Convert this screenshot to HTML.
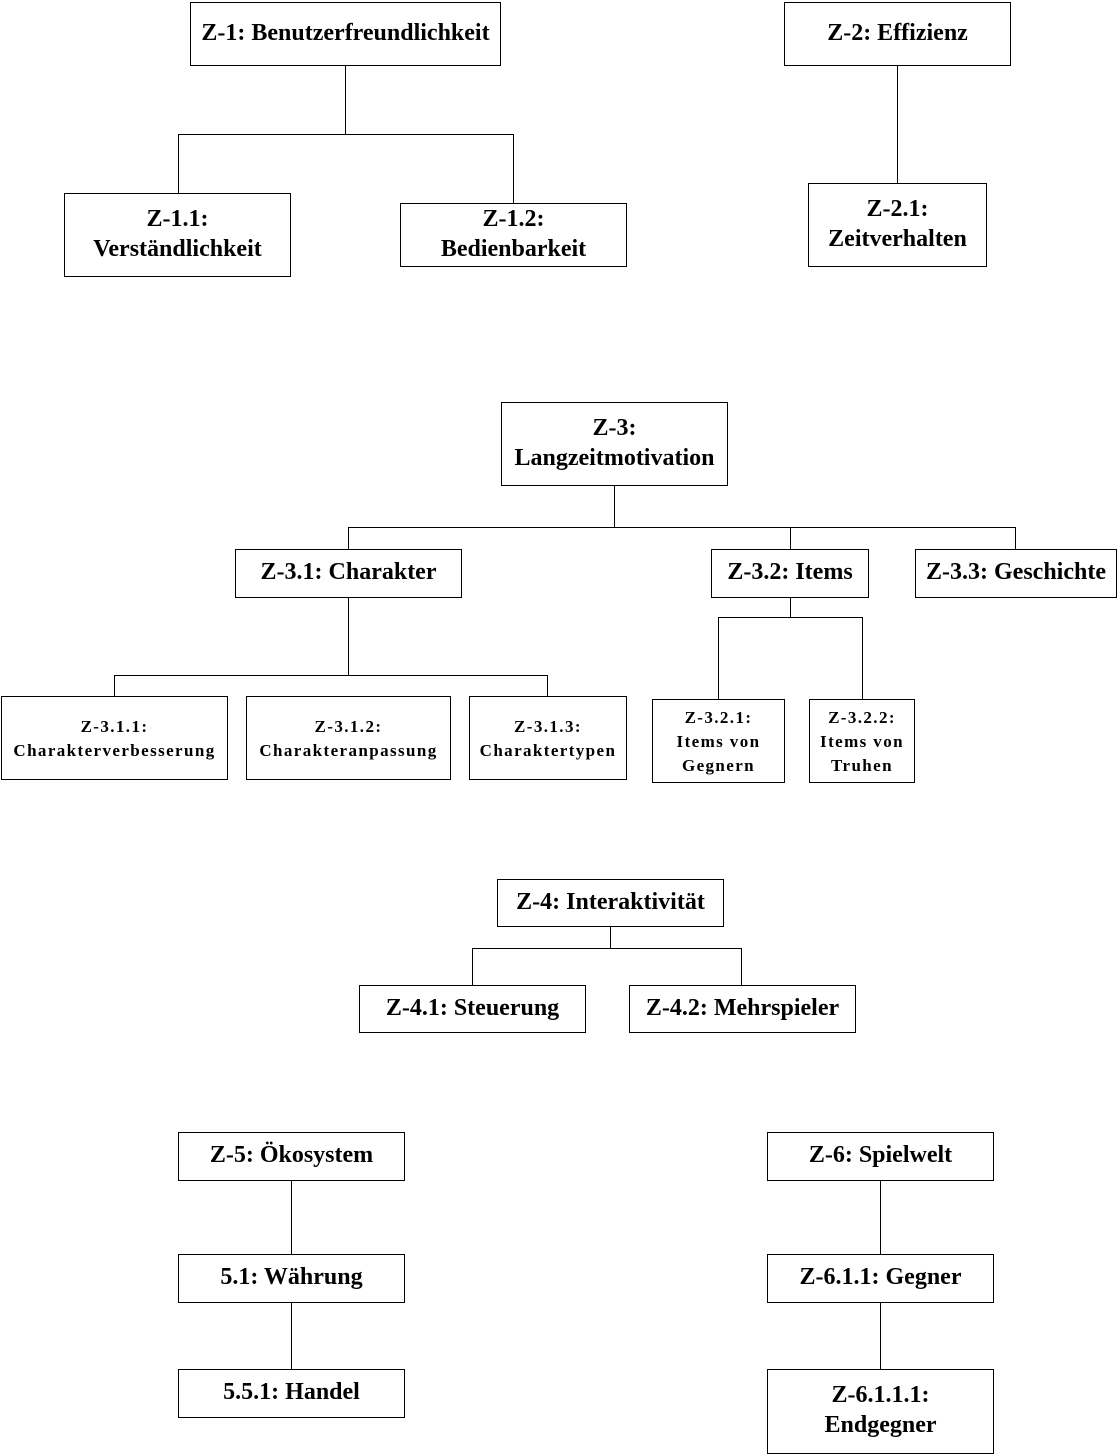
<!DOCTYPE html>
<html><head><meta charset="utf-8"><style>
body{margin:0;width:1118px;height:1455px;background:#fff;position:relative;overflow:hidden}
.b{position:absolute;border:1px solid #000;box-sizing:border-box;display:flex;align-items:center;justify-content:center;text-align:center;font-family:"Liberation Serif",serif;font-weight:bold;font-size:24px;line-height:30px;color:#000;background:#fff;padding-bottom:3px;white-space:nowrap}
.s{font-size:17px;line-height:24px;letter-spacing:1.4px;padding-bottom:0;padding-top:2px}
.h{position:absolute;height:1px;background:#000}
.v{position:absolute;width:1px;background:#000}
</style></head><body>
<div class="v" style="left:345px;top:65px;height:70px"></div>
<div class="h" style="left:178px;top:134px;width:336px"></div>
<div class="v" style="left:178px;top:134px;height:60px"></div>
<div class="v" style="left:513px;top:134px;height:70px"></div>
<div class="v" style="left:897px;top:65px;height:118px"></div>

<div class="v" style="left:614px;top:485px;height:43px"></div>
<div class="h" style="left:348px;top:527px;width:668px"></div>
<div class="v" style="left:348px;top:527px;height:22px"></div>
<div class="v" style="left:790px;top:527px;height:22px"></div>
<div class="v" style="left:1015px;top:527px;height:22px"></div>
<div class="v" style="left:348px;top:597px;height:79px"></div>
<div class="h" style="left:114px;top:675px;width:434px"></div>
<div class="v" style="left:114px;top:675px;height:21px"></div>
<div class="v" style="left:547px;top:675px;height:21px"></div>
<div class="v" style="left:790px;top:597px;height:21px"></div>
<div class="h" style="left:718px;top:617px;width:145px"></div>
<div class="v" style="left:718px;top:617px;height:82px"></div>
<div class="v" style="left:862px;top:617px;height:82px"></div>

<div class="v" style="left:610px;top:926px;height:23px"></div>
<div class="h" style="left:472px;top:948px;width:270px"></div>
<div class="v" style="left:472px;top:948px;height:37px"></div>
<div class="v" style="left:741px;top:948px;height:37px"></div>

<div class="v" style="left:291px;top:1180px;height:189px"></div>
<div class="v" style="left:880px;top:1180px;height:189px"></div>

<div class="b" style="left:190px;top:2px;width:311px;height:64px">Z-1: Benutzerfreundlichkeit</div>
<div class="b" style="left:784px;top:2px;width:227px;height:64px">Z-2: Effizienz</div>
<div class="b" style="left:64px;top:193px;width:227px;height:84px">Z-1.1:<br>Verständlichkeit</div>
<div class="b" style="left:400px;top:203px;width:227px;height:64px">Z-1.2:<br>Bedienbarkeit</div>
<div class="b" style="left:808px;top:183px;width:179px;height:84px">Z-2.1:<br>Zeitverhalten</div>

<div class="b" style="left:501px;top:402px;width:227px;height:84px">Z-3:<br>Langzeitmotivation</div>
<div class="b" style="left:235px;top:549px;width:227px;height:49px">Z-3.1: Charakter</div>
<div class="b" style="left:711px;top:549px;width:158px;height:49px">Z-3.2: Items</div>
<div class="b" style="left:915px;top:549px;width:202px;height:49px">Z-3.3: Geschichte</div>
<div class="b s" style="left:1px;top:696px;width:227px;height:84px">Z-3.1.1:<br>Charakterverbesserung</div>
<div class="b s" style="left:246px;top:696px;width:205px;height:84px">Z-3.1.2:<br>Charakteranpassung</div>
<div class="b s" style="left:469px;top:696px;width:158px;height:84px">Z-3.1.3:<br>Charaktertypen</div>
<div class="b s" style="left:652px;top:699px;width:133px;height:84px">Z-3.2.1:<br>Items von<br>Gegnern</div>
<div class="b s" style="left:809px;top:699px;width:106px;height:84px">Z-3.2.2:<br>Items von<br>Truhen</div>

<div class="b" style="left:497px;top:879px;width:227px;height:48px">Z-4: Interaktivität</div>
<div class="b" style="left:359px;top:985px;width:227px;height:48px">Z-4.1: Steuerung</div>
<div class="b" style="left:629px;top:985px;width:227px;height:48px">Z-4.2: Mehrspieler</div>

<div class="b" style="left:178px;top:1132px;width:227px;height:49px">Z-5: Ökosystem</div>
<div class="b" style="left:178px;top:1254px;width:227px;height:49px">5.1: Währung</div>
<div class="b" style="left:178px;top:1369px;width:227px;height:49px">5.5.1: Handel</div>
<div class="b" style="left:767px;top:1132px;width:227px;height:49px">Z-6: Spielwelt</div>
<div class="b" style="left:767px;top:1254px;width:227px;height:49px">Z-6.1.1: Gegner</div>
<div class="b" style="left:767px;top:1369px;width:227px;height:85px">Z-6.1.1.1:<br>Endgegner</div>
</body></html>
